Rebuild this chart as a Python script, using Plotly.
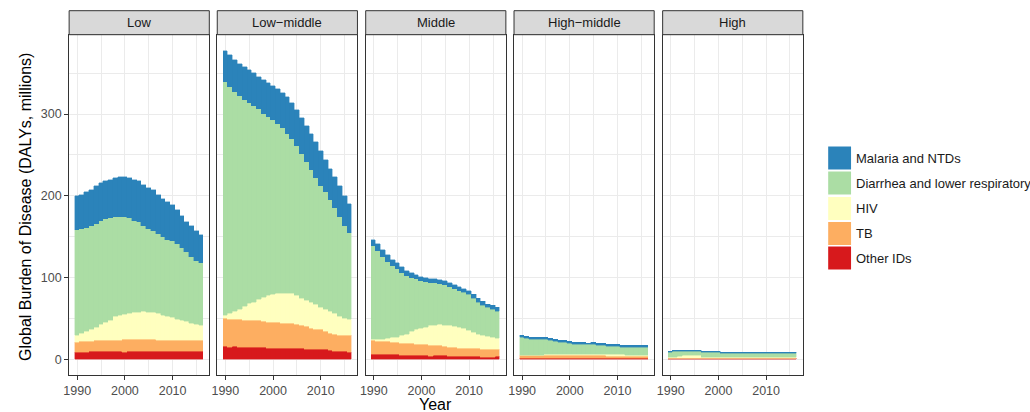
import plotly.graph_objects as go

# ---------------- data ----------------
years = list(range(1990, 2017))
panels = ["Low", "Low\u2212middle", "Middle", "High\u2212middle", "High"]
causes = ["Other IDs", "TB", "HIV", "Diarrhea and lower respiratory", "Malaria and NTDs"]
cause_colors = ["#D7191C", "#FDAE61", "#FFFFBF", "#ABDDA4", "#2B83BA"]
x_ticks = [1990, 2000, 2010]
y_ticks = [0, 100, 200, 300]

# Low income
low_other = [8.1, 8.1, 8.1, 9.4, 9.4, 9.4, 9.4, 9.4, 9.4, 9.4, 8.1, 9.4, 9.4, 9.4, 9.4, 9.4, 9.4, 9.4, 9.4, 9.4, 9.4, 9.4, 9.4, 9.4, 9.4, 9.4, 9.4]
low_tb = [11.9, 13.1, 13.1, 11.8, 13.0, 13.0, 13.0, 13.0, 13.0, 13.0, 15.5, 14.2, 14.2, 14.2, 14.2, 14.2, 14.2, 13.0, 13.0, 13.0, 13.0, 13.0, 13.0, 13.0, 13.0, 13.0, 13.0]
low_hiv = [8.5, 9.8, 12.2, 14.8, 16.6, 19.6, 22.6, 24.6, 29.6, 30.6, 31.0, 32.4, 33.4, 33.8, 34.4, 33.4, 33.0, 33.0, 30.6, 29.3, 28.6, 26.6, 25.3, 23.6, 21.6, 20.6, 18.6]
low_diarrhea = [130.5, 129.0, 127.6, 128.0, 127.0, 127.5, 126.5, 126.5, 123.0, 122.0, 120.4, 117.0, 113.0, 110.6, 106.0, 103.0, 100.4, 98.6, 97.0, 95.3, 93.6, 92.0, 89.3, 85.6, 82.0, 78.0, 77.0]
low_malaria = [40.6, 42.0, 43.5, 44.0, 46.0, 46.0, 46.5, 46.5, 47.0, 48.0, 48.0, 49.0, 50.0, 50.0, 50.0, 50.5, 50.0, 48.0, 46.0, 46.0, 44.0, 41.5, 39.0, 36.4, 37.0, 36.0, 34.0]

# Low-middle income
lm_other = [15.5, 14.7, 15.5, 14.3, 14.3, 14.3, 14.3, 14.3, 14.3, 12.6, 12.6, 12.6, 12.6, 12.6, 12.6, 12.6, 12.6, 12.2, 11.4, 11.4, 11.4, 11.4, 10.6, 9.8, 9.0, 9.0, 7.7]
lm_tb = [33.9, 33.3, 32.5, 33.7, 32.7, 32.7, 32.7, 32.7, 31.4, 31.8, 31.8, 31.8, 31.4, 31.4, 31.4, 29.4, 28.2, 27.3, 26.1, 24.6, 24.6, 22.0, 21.2, 20.8, 20.3, 19.5, 20.8]
lm_hiv = [4.6, 7.4, 10.0, 13.0, 17.4, 20.7, 23.0, 25.6, 29.7, 33.1, 34.6, 35.9, 37.0, 37.0, 36.0, 35.5, 33.9, 32.5, 32.2, 31.0, 27.6, 27.6, 26.2, 24.8, 22.7, 21.2, 20.5]
lm_diarrhea = [286.0, 278.3, 269.6, 261.7, 253.0, 245.6, 240.0, 233.8, 225.6, 219.5, 214.0, 207.7, 202.0, 194.8, 189.7, 183.5, 176.3, 169.5, 161.9, 155.0, 149.4, 143.7, 137.0, 129.6, 123.0, 114.3, 105.6]
lm_malaria = [37.0, 38.8, 38.4, 39.3, 40.6, 41.2, 40.0, 39.1, 41.0, 41.0, 41.5, 42.5, 43.0, 45.2, 44.3, 44.0, 44.0, 44.0, 44.4, 44.0, 42.0, 39.3, 38.0, 38.0, 37.0, 36.0, 35.4]

# Middle income
mid_other = [5.3, 5.3, 5.3, 5.3, 5.3, 5.3, 4.5, 4.5, 4.5, 4.5, 4.5, 4.5, 3.7, 4.5, 4.5, 4.5, 2.8, 2.8, 2.8, 2.8, 2.8, 2.8, 2.8, 2.0, 2.0, 2.0, 3.2]
mid_tb = [17.1, 16.3, 16.3, 16.3, 15.1, 15.1, 14.7, 14.7, 14.7, 13.5, 13.5, 13.5, 13.0, 12.2, 11.8, 11.0, 11.9, 11.9, 10.6, 10.6, 10.6, 9.8, 9.8, 9.8, 9.8, 9.8, 8.6]
mid_hiv = [1.2, 2.4, 2.8, 3.4, 5.6, 6.6, 9.3, 11.4, 14.2, 18.0, 19.0, 21.0, 24.1, 24.9, 25.7, 25.5, 26.1, 25.3, 25.3, 23.6, 21.6, 20.0, 18.0, 17.5, 15.9, 14.7, 13.5]
mid_diarrhea = [115.1, 108.6, 101.2, 95.0, 88.6, 84.0, 78.0, 72.4, 66.9, 62.3, 59.2, 56.0, 53.0, 52.2, 50.6, 50.4, 48.2, 47.0, 45.3, 44.6, 43.7, 41.4, 38.4, 36.7, 35.1, 34.5, 33.0]
mid_malaria = [8.3, 8.4, 8.4, 7.6, 6.9, 7.0, 6.5, 6.0, 5.7, 5.7, 4.8, 5.0, 5.2, 5.2, 5.4, 5.2, 5.0, 4.0, 5.0, 5.4, 5.3, 5.5, 5.6, 5.0, 4.2, 5.0, 5.3]

# High-middle income
hm_other = [1.0, 1.0, 1.0, 1.0, 1.0, 1.0, 1.0, 1.0, 1.0, 1.0, 1.0, 1.0, 1.0, 1.0, 1.0, 1.0, 1.0, 1.0, 1.0, 1.0, 1.0, 1.0, 1.0, 1.0, 1.0, 1.0, 1.0]
hm_tb = [3.2, 3.6, 3.6, 3.4, 3.2, 3.2, 3.2, 3.2, 3.2, 3.2, 3.0, 3.0, 3.0, 3.0, 3.0, 3.0, 3.0, 3.0, 2.8, 2.8, 2.8, 2.8, 2.6, 2.6, 2.4, 2.4, 2.4]
hm_hiv = [0.4, 0.5, 0.6, 0.8, 1.0, 1.1, 1.2, 1.3, 1.4, 1.5, 1.6, 1.6, 1.7, 1.7, 1.7, 1.6, 1.6, 1.6, 1.6, 1.5, 1.5, 1.5, 1.4, 1.4, 1.4, 1.3, 1.3]
hm_diarrhea = [21.6, 20.0, 18.6, 18.6, 18.6, 18.5, 17.3, 16.0, 14.7, 14.7, 13.6, 12.8, 12.7, 12.7, 11.9, 12.9, 11.6, 11.6, 10.6, 10.8, 10.8, 9.5, 9.8, 9.8, 10.0, 10.1, 10.1]
hm_malaria = [2.3, 2.2, 2.2, 2.2, 2.2, 2.2, 2.1, 2.1, 2.1, 2.0, 2.0, 2.0, 2.0, 2.0, 1.9, 1.9, 1.9, 1.9, 1.9, 1.8, 1.8, 1.8, 1.8, 1.8, 1.8, 1.8, 1.8]

# High income
hi_other = [0.7, 0.7, 0.7, 0.7, 0.7, 0.7, 0.7, 0.7, 0.7, 0.7, 0.7, 0.7, 0.7, 0.7, 0.7, 0.7, 0.7, 0.7, 0.7, 0.7, 0.7, 0.7, 0.7, 0.7, 0.7, 0.7, 0.7]
hi_tb = [0.5, 0.5, 0.5, 0.5, 0.5, 0.5, 0.5, 0.5, 0.5, 0.5, 0.5, 0.5, 0.5, 0.5, 0.5, 0.5, 0.5, 0.5, 0.5, 0.5, 0.5, 0.5, 0.5, 0.5, 0.5, 0.5, 0.5]
hi_hiv = [0.4, 0.8, 1.6, 2.8, 2.8, 2.8, 2.8, 0.8, 0.6, 0.6, 0.6, 0.6, 0.5, 0.5, 0.5, 0.5, 0.5, 0.5, 0.5, 0.5, 0.5, 0.5, 0.5, 0.5, 0.5, 0.5, 0.5]
hi_diarrhea = [6.5, 7.3, 6.5, 5.3, 5.3, 5.3, 5.3, 6.1, 6.3, 6.3, 6.3, 5.0, 5.1, 5.1, 5.1, 5.1, 5.1, 5.1, 5.1, 5.1, 5.1, 5.1, 5.1, 5.1, 5.1, 5.1, 5.1]
hi_malaria = [0.9, 0.9, 0.9, 0.9, 0.9, 0.9, 0.9, 0.9, 0.9, 0.9, 0.9, 0.9, 0.9, 0.9, 0.9, 0.9, 0.9, 0.9, 0.9, 0.9, 0.9, 0.9, 0.9, 0.9, 0.9, 0.9, 0.9]

panel_data = [
    [low_other, low_tb, low_hiv, low_diarrhea, low_malaria],
    [lm_other, lm_tb, lm_hiv, lm_diarrhea, lm_malaria],
    [mid_other, mid_tb, mid_hiv, mid_diarrhea, mid_malaria],
    [hm_other, hm_tb, hm_hiv, hm_diarrhea, hm_malaria],
    [hi_other, hi_tb, hi_hiv, hi_diarrhea, hi_malaria],
]

# ---------------- layout geometry (pixels) ----------------
W, H = 1030, 412
panel_left = [63.5, 212.5, 361.8, 511.0, 660.5]
panel_w = 141.0
panel_top, panel_bot = 34.7, 375.0
strip_top = 10.7

FONT = "Liberation Sans, Arial, Helvetica, sans-serif"
BORDER = "#333333"
GRID = "#EBEBEB"
TICK_SIZE = 12.5
TEXT_SIZE = 13
TITLE_SIZE = 16

def px_x(p):
    return p / W

def px_y(p):
    return 1 - p / H

fig = go.Figure()

for i, panel in enumerate(panels):
    sfx = "" if i == 0 else str(i + 1)
    for cause, color, vals in zip(causes, cause_colors, panel_data[i]):
        fig.add_trace(go.Bar(
            x=years, y=vals, name=cause, width=1.0,
            marker=dict(color=color, line=dict(color=color, width=0.4)),
            xaxis="x" + sfx, yaxis="y" + sfx, showlegend=False,
            hovertemplate=panel + "<br>%{x}: %{y}<extra>" + cause + "</extra>",
        ))

layout = dict(
    width=W, height=H,
    margin=dict(l=0, r=0, t=0, b=0),
    barmode="stack", bargap=0,
    paper_bgcolor="white", plot_bgcolor="white",
    font=dict(family=FONT, size=TEXT_SIZE, color="#1A1A1A"),
    showlegend=False,
)

shapes = []
annotations = []
for i, panel in enumerate(panels):
    sfx = "" if i == 0 else str(i + 1)
    x0 = px_x(panel_left[i])
    x1 = px_x(panel_left[i] + panel_w)
    layout["xaxis" + sfx] = dict(
        domain=[x0, x1], anchor="y" + sfx,
        range=[1988.3, 2017.7], tickvals=x_ticks,
        ticks="outside", ticklen=4, tickwidth=1, tickcolor=BORDER,
        tickfont=dict(family=FONT, size=TICK_SIZE, color="#4D4D4D"),
        showline=True, mirror=True, linecolor=BORDER, linewidth=1,
        showgrid=True, gridcolor=GRID, gridwidth=1.1,
        minor=dict(tickvals=[1995, 2005, 2015], showgrid=True, gridcolor=GRID, gridwidth=0.6),
        zeroline=False, fixedrange=True,
    )
    layout["yaxis" + sfx] = dict(
        domain=[px_y(panel_bot), px_y(panel_top)], anchor="x" + sfx,
        range=[-19, 397], tickvals=y_ticks,
        showticklabels=(i == 0),
        ticks="outside" if i == 0 else "", ticklen=4, tickwidth=1, tickcolor=BORDER,
        tickfont=dict(family=FONT, size=TICK_SIZE, color="#4D4D4D"),
        showline=True, mirror=True, linecolor=BORDER, linewidth=1,
        showgrid=True, gridcolor=GRID, gridwidth=1.1,
        minor=dict(tickvals=[50, 150, 250, 350], showgrid=True, gridcolor=GRID, gridwidth=0.6),
        zeroline=False, fixedrange=True,
    )
    # facet strip
    shapes.append(dict(
        type="rect", xref="paper", yref="paper",
        x0=x0, x1=x1, y0=px_y(panel_top), y1=px_y(strip_top),
        fillcolor="#D9D9D9", line=dict(color=BORDER, width=1), layer="above",
    ))
    annotations.append(dict(
        text=panel, xref="paper", yref="paper",
        x=(x0 + x1) / 2, y=px_y((panel_top + strip_top) / 2),
        xanchor="center", yanchor="middle", showarrow=False,
        font=dict(family=FONT, size=TEXT_SIZE, color="#1A1A1A"),
    ))

# axis titles
annotations.append(dict(
    text="Year", xref="paper", yref="paper",
    x=px_x((panel_left[0] + panel_left[-1] + panel_w) / 2), y=px_y(404),
    xanchor="center", yanchor="middle", showarrow=False,
    font=dict(family=FONT, size=TITLE_SIZE, color="black"),
))
annotations.append(dict(
    text="Global Burden of Disease (DALYs, millions)", xref="paper", yref="paper",
    x=px_x(19), y=px_y(207), textangle=-90,
    xanchor="center", yanchor="middle", showarrow=False,
    font=dict(family=FONT, size=TITLE_SIZE, color="black"),
))

# legend (top entry = top of stack)
legend_centers = [158, 183, 208.5, 233.5, 258]
for k, (cause, color) in enumerate(zip(causes[::-1], cause_colors[::-1])):
    cy = legend_centers[k]
    shapes.append(dict(
        type="rect", xref="paper", yref="paper",
        x0=px_x(827), x1=px_x(850), y0=px_y(cy + 11.5), y1=px_y(cy - 11.5),
        fillcolor=color, line=dict(width=0),
    ))
    annotations.append(dict(
        text=cause, xref="paper", yref="paper",
        x=px_x(853), y=px_y(cy), xanchor="left", yanchor="middle", showarrow=False,
        font=dict(family=FONT, size=TEXT_SIZE, color="#1A1A1A"),
    ))

layout["shapes"] = shapes
layout["annotations"] = annotations
fig.update_layout(**layout)

fig.write_html(
    "out.html",
    config={"displayModeBar": False},
    post_script="document.body.style.margin='0px';document.body.style.overflow='hidden';",
)
